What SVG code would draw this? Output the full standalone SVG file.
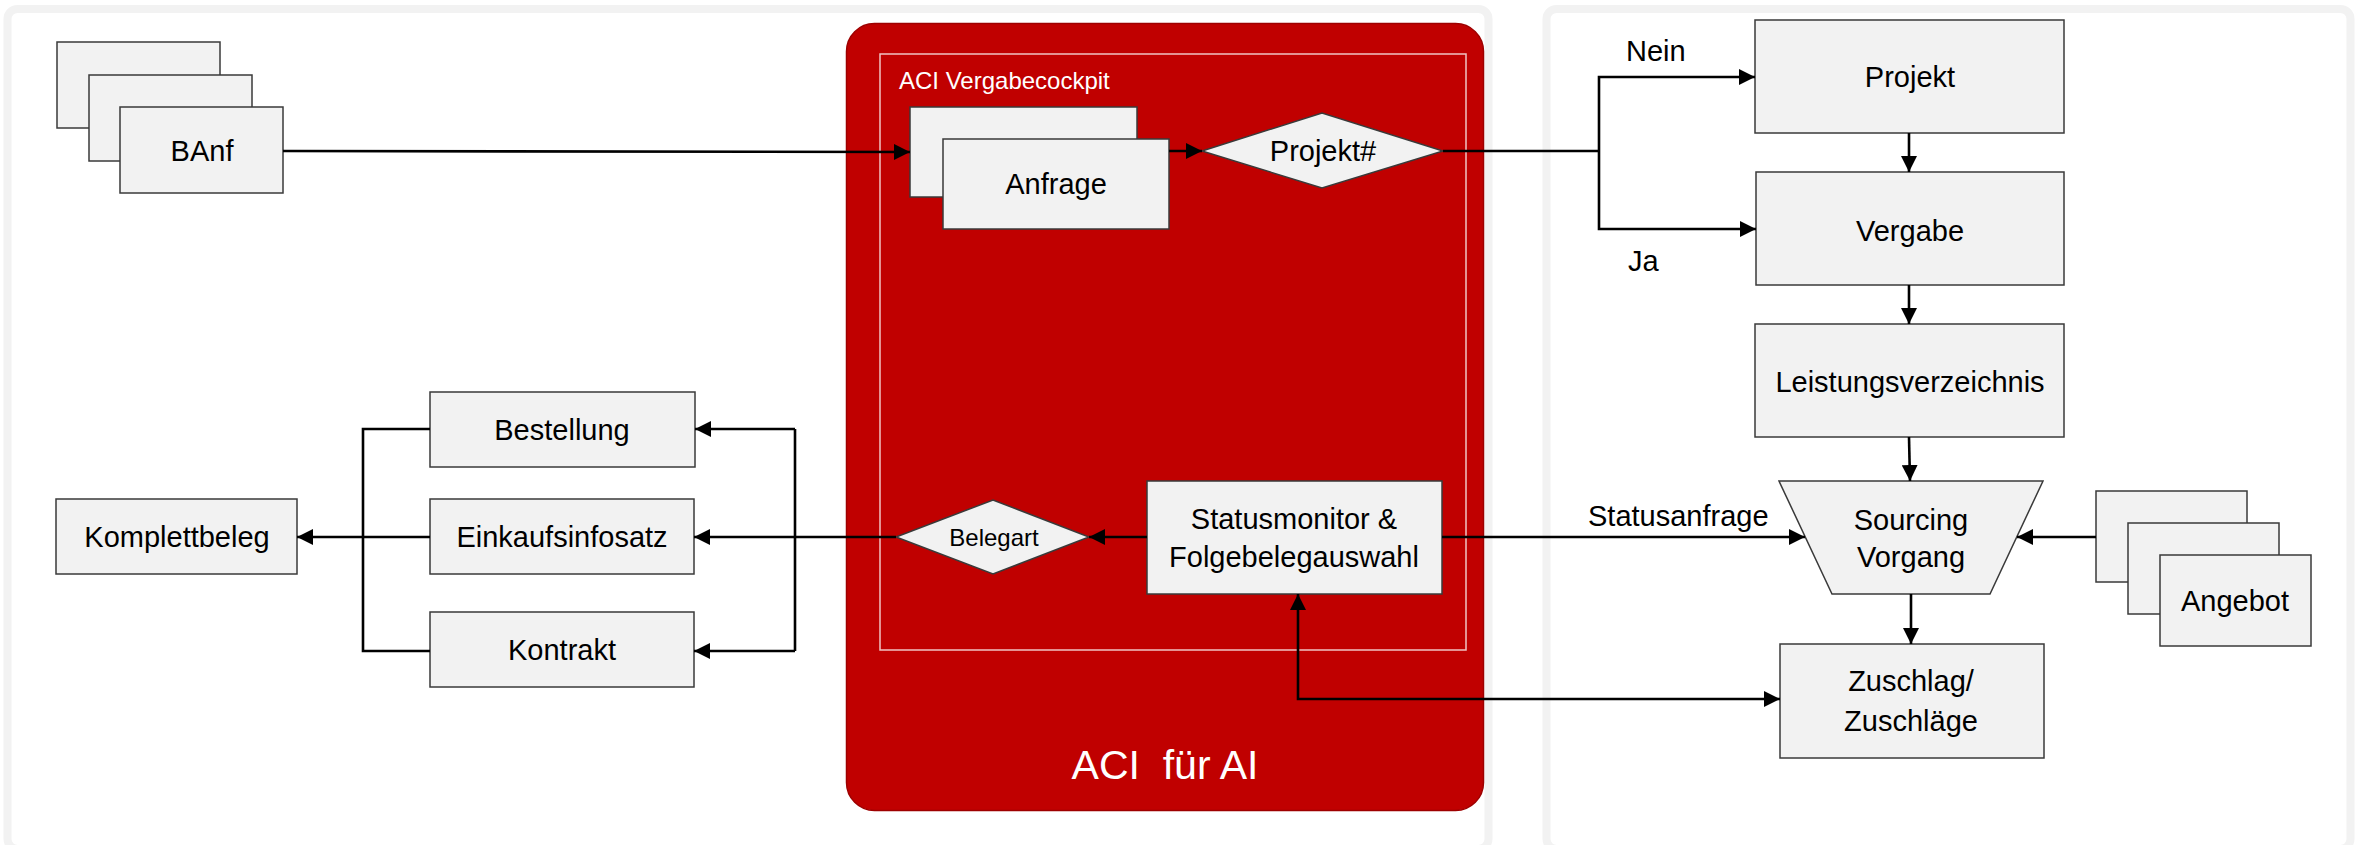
<svg xmlns="http://www.w3.org/2000/svg" width="2364" height="845" viewBox="0 0 2364 845">
<style>
text{font-family:"Liberation Sans",Arial,sans-serif;fill:#000}
.lbl{font-size:29px;text-anchor:middle}
.box{fill:#f2f2f2;stroke:#3a3a3a;stroke-width:1.5}
.panel{fill:#fff;stroke:#f2f2f2;stroke-width:8}
.con{fill:none;stroke:#000;stroke-width:2.6}
.arr{marker-end:url(#ah)}
</style>
<defs>
<marker id="ah" viewBox="0 0 15 15" refX="15" refY="7.5" markerWidth="16" markerHeight="16" markerUnits="userSpaceOnUse" orient="auto-start-reverse">
<path d="M0,0 L15,7.5 L0,15 z" fill="#000"/>
</marker>
</defs>
<rect width="2364" height="845" fill="#fff"/>
<g id="panel-left"><rect class="panel" x="7.5" y="9" width="1481" height="840" rx="10"/></g>
<g id="panel-right"><rect class="panel" x="1546.5" y="9" width="804" height="840" rx="10"/></g>
<g id="aci">
<rect x="846.5" y="23.5" width="637" height="787" rx="28" fill="#c00000" stroke="#9e0000" stroke-width="1.5"/>
<rect x="880" y="54" width="586" height="596" fill="none" stroke="#f0c4c4" stroke-width="1.5"/>
<text x="899" y="89" style="font-size:24px;fill:#fff">ACI Vergabecockpit</text>
<text x="1165" y="779" style="font-size:41px;fill:#fff;text-anchor:middle;white-space:pre">ACI  für AI</text>
</g>
<g id="banf">
<rect class="box" x="57" y="42" width="163" height="86"/>
<rect class="box" x="89" y="75" width="163" height="86"/>
<rect class="box" x="120" y="107" width="163" height="86"/>
<text class="lbl" x="202" y="161">BAnf</text>
</g>
<g id="anfrage">
<rect class="box" x="910" y="107" width="227" height="90"/>
<rect class="box" x="943" y="139" width="226" height="90"/>
<text class="lbl" x="1056" y="194">Anfrage</text>
</g>
<g id="projekt-dec">
<polygon class="box" points="1202,151 1322,113 1443,151 1322,188"/>
<text class="lbl" x="1323" y="161">Projekt#</text>
</g>
<g id="projekt">
<rect class="box" x="1755" y="20" width="309" height="113"/>
<text class="lbl" x="1910" y="87">Projekt</text>
</g>
<g id="vergabe">
<rect class="box" x="1756" y="172" width="308" height="113"/>
<text class="lbl" x="1910" y="241">Vergabe</text>
</g>
<g id="leistung">
<rect class="box" x="1755" y="324" width="309" height="113"/>
<text class="lbl" x="1910" y="392">Leistungsverzeichnis</text>
</g>
<g id="sourcing">
<polygon class="box" points="1779,481 2043,481 1990,594 1832,594"/>
<text class="lbl" x="1911" y="530">Sourcing</text>
<text class="lbl" x="1911" y="567">Vorgang</text>
</g>
<g id="angebot">
<rect class="box" x="2096" y="491" width="151" height="91"/>
<rect class="box" x="2128" y="523" width="151" height="91"/>
<rect class="box" x="2160" y="555" width="151" height="91"/>
<text class="lbl" x="2235" y="611">Angebot</text>
</g>
<g id="zuschlag">
<rect class="box" x="1780" y="644" width="264" height="114"/>
<text class="lbl" x="1911" y="691">Zuschlag/</text>
<text class="lbl" x="1911" y="731">Zuschläge</text>
</g>
<g id="statusmonitor">
<rect class="box" x="1147" y="481" width="295" height="113"/>
<text class="lbl" x="1294" y="529">Statusmonitor &amp;</text>
<text class="lbl" x="1294" y="567">Folgebelegauswahl</text>
</g>
<g id="belegart">
<polygon class="box" points="896,537 993,500 1089,537 993,574"/>
<text x="994" y="546" style="font-size:24px;text-anchor:middle">Belegart</text>
</g>
<g id="bestellung">
<rect class="box" x="430" y="392" width="265" height="75"/>
<text class="lbl" x="562" y="440">Bestellung</text>
</g>
<g id="einkaufsinfosatz">
<rect class="box" x="430" y="499" width="264" height="75"/>
<text class="lbl" x="562" y="547">Einkaufsinfosatz</text>
</g>
<g id="kontrakt">
<rect class="box" x="430" y="612" width="264" height="75"/>
<text class="lbl" x="562" y="660">Kontrakt</text>
</g>
<g id="komplettbeleg">
<rect class="box" x="56" y="499" width="241" height="75"/>
<text class="lbl" x="177" y="547">Komplettbeleg</text>
</g>
<g id="connectors">
<path class="con arr" d="M283,151 L910,152"/>
<path class="con arr" d="M1169,151 L1202,151"/>
<path class="con" d="M1443,151 H1599"/>
<path class="con arr" d="M1599,151 V77 H1755"/>
<path class="con arr" d="M1599,151 V229 H1756"/>
<path class="con arr" d="M1909,133 V172"/>
<path class="con arr" d="M1909,285 V324"/>
<path class="con arr" d="M1909,437 L1910,481"/>
<path class="con arr" d="M1911,594 V644"/>
<path class="con arr" d="M2096,537 H2017"/>
<path class="con arr" d="M1442,537 H1805"/>
<path class="con arr" d="M1298,594 V699 H1780" style="marker-start:url(#ah)"/>
<path class="con arr" d="M1147,537 H1089"/>
<path class="con" d="M896,537 H795"/>
<path class="con arr" d="M795,537 H694"/>
<path class="con arr" d="M795,429 H695"/>
<path class="con" d="M795,429 V651"/>
<path class="con arr" d="M795,651 H694"/>
<path class="con" d="M430,429 H363 V651 H430"/>
<path class="con arr" d="M430,537 H297"/>
<text x="1588" y="526" style="font-size:29px">Statusanfrage</text>
<text x="1626" y="61" style="font-size:29px">Nein</text>
<text x="1628" y="271" style="font-size:29px">Ja</text>
</g>
</svg>
